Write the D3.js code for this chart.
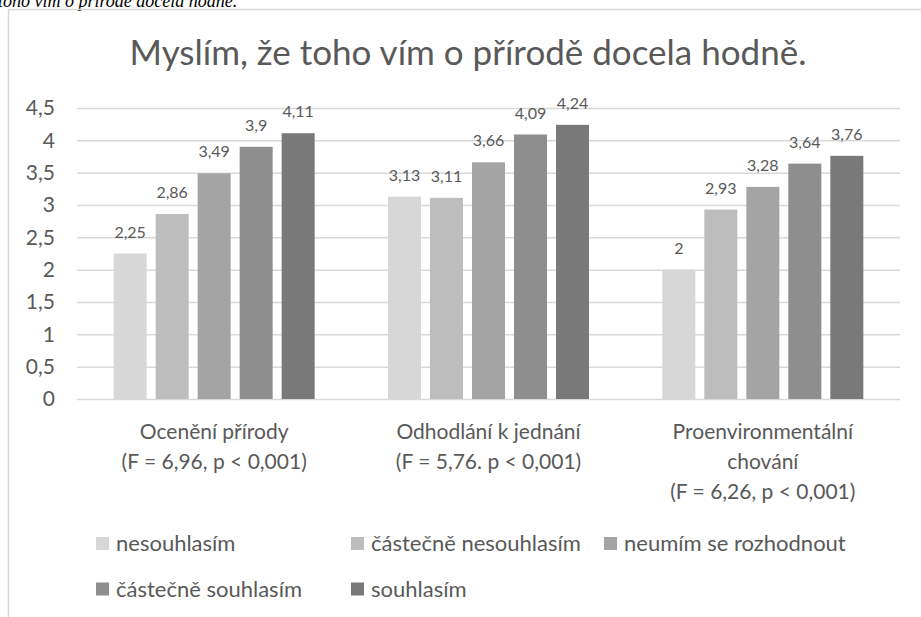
<!DOCTYPE html>
<html>
<head>
<meta charset="utf-8">
<script src="https://cdn.jsdelivr.net/npm/d3@7"></script>
<style>
  body { margin: 0; background: #fff; }
  text { font-family: Lato, "Open Sans", sans-serif; fill: #595959; }
</style>
</head>
<body>
<div id="chart"></div>
<script>
var categories = ["Ocenění přírody", "Odhodlání k jednání", "Proenvironmentální chování"];
var categoryLines = [
  ["Ocenění přírody", "(F = 6,96, p < 0,001)"],
  ["Odhodlání k jednání", "(F = 5,76. p < 0,001)"],
  ["Proenvironmentální", "chování", "(F = 6,26, p < 0,001)"]
];
var seriesNames = ["nesouhlasím", "částečně nesouhlasím", "neumím se rozhodnout", "částečně souhlasím", "souhlasím"];
var nesouhlasim = [2.25, 3.13, 2];
var castecneNesouhlasim = [2.86, 3.11, 2.93];
var neumim = [3.49, 3.66, 3.28];
var castecneSouhlasim = [3.9, 4.09, 3.64];
var souhlasim = [4.11, 4.24, 3.76];
var yTicks = [0, 0.5, 1, 1.5, 2, 2.5, 3, 3.5, 4, 4.5];
var colors = ["#d7d7d7", "#bdbdbd", "#a4a4a4", "#8e8e8e", "#797979"];

var seriesValues = [nesouhlasim, castecneNesouhlasim, neumim, castecneSouhlasim, souhlasim];

var svgWidth = 921;
var svgHeight = 617;
var plotLeft = 77, plotRight = 900, plotTop = 108, plotBottom = 399;

var svg = d3.select("#chart")
  .append("svg")
  .attr("width", svgWidth)
  .attr("height", svgHeight);

var fmt = function(v) { return String(v).replace(".", ","); };

// cut-off line of the document text above the chart
svg.append("text")
  .attr("x", -2)
  .attr("y", 7)
  .style("font-family", "'Liberation Serif', serif")
  .style("font-style", "italic")
  .style("font-size", "18px")
  .style("fill", "#000")
  .text("toho vím o přírodě docela hodně.");

// chart border
svg.append("rect")
  .attr("x", 8.5)
  .attr("y", 9.5)
  .attr("width", 1000)
  .attr("height", 800)
  .attr("fill", "none")
  .attr("stroke", "#d9d9d9")
  .attr("stroke-width", 1.5);

svg.append("text")
  .attr("x", 468)
  .attr("y", 65)
  .attr("text-anchor", "middle")
  .style("font-size", "35px")
  .text("Myslím, že toho vím o přírodě docela hodně.");

var x0 = d3.scaleBand()
  .domain(categories)
  .range([plotLeft, plotRight]);

var x1 = d3.scaleBand()
  .domain(seriesNames)
  .range([-100.5, 100.5])
  .paddingInner(9 / 42);

var y = d3.scaleLinear()
  .domain([0, 4.5])
  .range([plotBottom, plotTop]);

var leftAxis = d3.axisLeft(y)
  .tickValues(yTicks)
  .tickFormat(fmt)
  .tickSize(-(plotRight - plotLeft))
  .tickPadding(22);

var axisG = svg.append("g")
  .attr("transform", `translate(${plotLeft}, 0)`)
  .call(leftAxis);
axisG.select(".domain").remove();
axisG.selectAll(".tick line")
  .attr("stroke", "#d9d9d9")
  .attr("stroke-width", 1.5);
axisG.selectAll(".tick text")
  .attr("fill", "#595959")
  .style("font-size", "21px");

// bars
var barData = [];
seriesValues.forEach(function(vals, si) {
  vals.forEach(function(v, ci) {
    barData.push({ series: seriesNames[si], cat: categories[ci], value: v, si: si });
  });
});

svg.append("g").selectAll("rect")
  .data(barData)
  .enter()
  .append("rect")
  .attr("x", d => x0(d.cat) + x0.bandwidth() / 2 + x1(d.series))
  .attr("y", d => y(d.value))
  .attr("width", x1.bandwidth())
  .attr("height", d => y(0) - y(d.value))
  .attr("fill", d => colors[d.si]);

svg.append("g").selectAll("text")
  .data(barData)
  .enter()
  .append("text")
  .attr("x", d => x0(d.cat) + x0.bandwidth() / 2 + x1(d.series) + x1.bandwidth() / 2)
  .attr("y", d => y(d.value) - 16)
  .attr("text-anchor", "middle")
  .style("font-size", "16px")
  .text(d => fmt(d.value));

// category labels
var catG = svg.append("g").selectAll("text")
  .data(categories)
  .enter()
  .append("text")
  .attr("text-anchor", "middle")
  .style("font-size", "21px");
catG.each(function(c, i) {
  var t = d3.select(this);
  categoryLines[i].forEach(function(line, li) {
    t.append("tspan")
      .attr("x", x0(c) + x0.bandwidth() / 2)
      .attr("y", 439 + li * 30)
      .text(line);
  });
});

// legend
var legendX = [96, 351, 604];
var legendY = [543.5, 589];
var legend = svg.append("g").selectAll("g")
  .data(seriesNames)
  .enter()
  .append("g")
  .attr("transform", (d, i) => `translate(${legendX[i % 3]}, ${legendY[Math.floor(i / 3)]})`);
legend.append("rect")
  .attr("x", 0)
  .attr("y", -6.5)
  .attr("width", 13)
  .attr("height", 13)
  .attr("fill", (d, i) => colors[i]);
legend.append("text")
  .attr("x", 20)
  .attr("y", 0)
  .attr("dy", "0.35em")
  .style("font-size", "22px")
  .text(d => d);
</script>
</body>
</html>
